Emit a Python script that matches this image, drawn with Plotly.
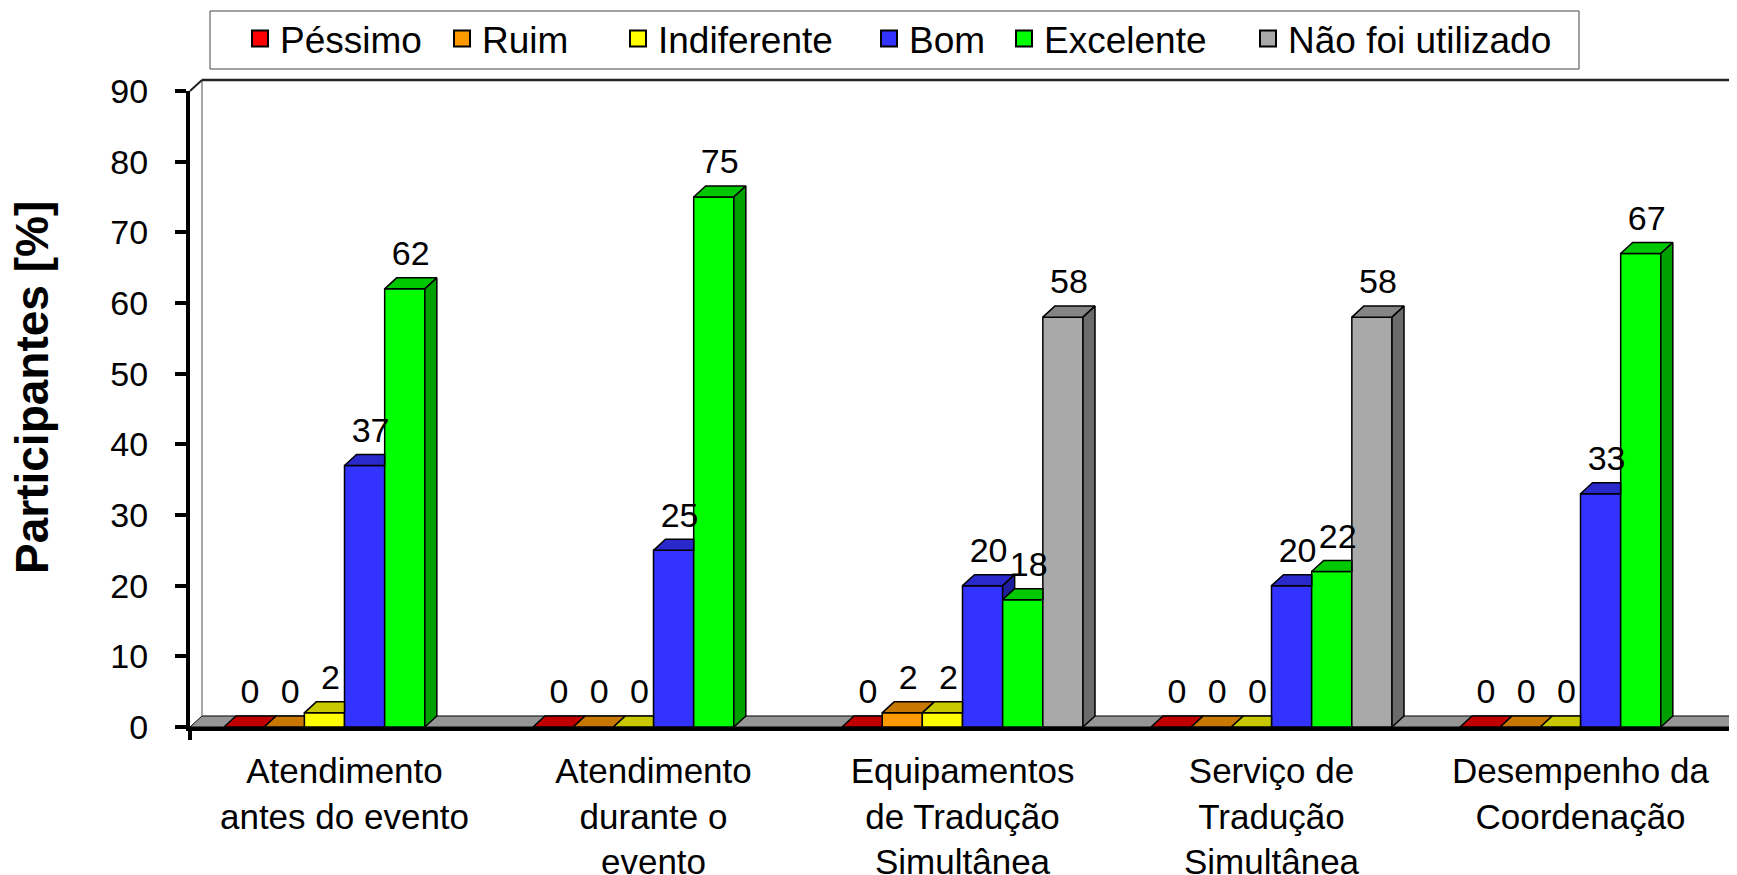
import plotly.graph_objects as go

# ---------------- data ----------------
categories = [
    "Atendimento<br>antes do evento",
    "Atendimento<br>durante o<br>evento",
    "Equipamentos<br>de Tradução<br>Simultânea",
    "Serviço de<br>Tradução<br>Simultânea",
    "Desempenho da<br>Coordenação",
]
series_names = ["Péssimo", "Ruim", "Indiferente", "Bom", "Excelente", "Não foi utilizado"]
pessimo = [0, 0, 0, 0, 0]
ruim = [0, 0, 2, 0, 0]
indiferente = [2, 0, 2, 0, 0]
bom = [37, 25, 20, 20, 33]
excelente = [62, 75, 18, 22, 67]
nao_utilizado = [None, None, 58, 58, None]
series_values = [pessimo, ruim, indiferente, bom, excelente, nao_utilizado]

# ---------------- styles ----------------
front_colors = ["#FF0000", "#FF9900", "#FFFF00", "#3333FF", "#00FF00", "#A9A9A9"]
top_colors = ["#C00000", "#C87800", "#C8C800", "#2929CC", "#00C800", "#858585"]
side_colors = ["#990000", "#995C00", "#999900", "#1F1F9E", "#00A000", "#6B6B6B"]
FONT = "Liberation Sans, Arial, sans-serif"

N = len(categories)
S = len(series_names)
GROUP = 0.78
W = GROUP / S
DX = 0.0388   # depth offset in x-units
DY = 1.56     # depth offset in y-units
Y_MAX = 90
XMIN, XMAX = -0.5, N - 0.5

OFF = 8  # default page margin of the html body
FIG_W, FIG_H = 1737 - OFF, 875 - OFF
ML, MR, MT, MB = 182, 2, 83, 148
PLOT_W = FIG_W - ML - MR
PLOT_H = FIG_H - MT - MB


def px(x):
    return (x - XMIN) / (XMAX - XMIN)


def py(y):
    return y / Y_MAX


def pgx(xp):  # page pixel -> paper x
    return (xp - OFF - ML) / PLOT_W


def pgy(yp):  # page pixel -> paper y
    return (MT + PLOT_H - (yp - OFF)) / PLOT_H


fig = go.Figure()
xs = list(range(N))

# front faces as bars
for s in range(S):
    fig.add_trace(go.Bar(
        x=xs, y=series_values[s], width=W, offset=-GROUP / 2 + s * W,
        marker=dict(color=front_colors[s], line=dict(color="black", width=1.5)),
        name=series_names[s], showlegend=False,
    ))

# top and side faces
for s in range(S):
    tx, ty, sx, sy = [], [], [], []
    for c in range(N):
        v = series_values[s][c]
        if v is None:
            continue
        left = c - GROUP / 2 + s * W
        right = left + W
        nxt = series_values[s + 1][c] if s + 1 < S else None
        nxt = 0 if nxt is None else nxt
        if nxt > v:
            poly = [(left, v), (right, v), (right, v + DY), (left + DX, v + DY)]
        else:
            poly = [(left, v), (right, v), (right + DX, v + DY), (left + DX, v + DY)]
        poly.append(poly[0])
        tx += [p[0] for p in poly] + [None]
        ty += [p[1] for p in poly] + [None]
        if v > nxt:
            side = [(right, nxt), (right + DX, nxt + DY), (right + DX, v + DY), (right, v)]
            side.append(side[0])
            sx += [p[0] for p in side] + [None]
            sy += [p[1] for p in side] + [None]
    fig.add_trace(go.Scatter(x=tx, y=ty, mode="lines", fill="toself",
                             fillcolor=top_colors[s], line=dict(color="black", width=1.5),
                             showlegend=False, hoverinfo="skip"))
    if sx:
        fig.add_trace(go.Scatter(x=sx, y=sy, mode="lines", fill="toself",
                                 fillcolor=side_colors[s], line=dict(color="black", width=1.5),
                                 showlegend=False, hoverinfo="skip"))

# value labels
lx, ly, lt = [], [], []
for s in range(S):
    for c in range(N):
        v = series_values[s][c]
        if v is None:
            continue
        lx.append(c - GROUP / 2 + s * W + W / 2 + DX * 0.5)
        ly.append(v + DY + 0.6)
        lt.append(str(v))
fig.add_trace(go.Scatter(x=lx, y=ly, text=lt, mode="text", textposition="top center",
                         textfont=dict(size=34, color="black", family=FONT),
                         showlegend=False, hoverinfo="skip", cliponaxis=False))

# legend entries (one legend per item, positioned like the reference)
legend_sq_px = [253, 455, 631, 882, 1017, 1261]
layout_legends = {}
for s in range(S):
    key = "legend" if s == 0 else f"legend{s + 1}"
    fig.add_trace(go.Scatter(
        x=[None], y=[None], mode="markers", name=series_names[s], legend=key,
        marker=dict(symbol="square", size=16, color=front_colors[s],
                    line=dict(color="black", width=2)),
    ))
    layout_legends[key] = dict(
        x=pgx(legend_sq_px[s] - 13), xanchor="left",
        y=pgy(39), yanchor="middle",
        orientation="h", bgcolor="rgba(0,0,0,0)", borderwidth=0,
        font=dict(size=37, color="black", family=FONT),
    )

shapes = []
# legend box
shapes.append(dict(type="rect", xref="paper", yref="paper",
                   x0=pgx(210), x1=pgx(1579), y0=pgy(69), y1=pgy(11),
                   line=dict(color="#444444", width=1), fillcolor="white", layer="below"))
# floor
fx0, fx1 = px(XMIN), px(XMAX + 0.1)
shapes.append(dict(type="path", xref="paper", yref="paper", layer="below",
                   path=f"M{fx0},{py(0)} L{fx1},{py(0)} L{px(XMAX + 0.1 + DX)},{py(DY)} "
                        f"L{px(XMIN + DX)},{py(DY)} Z",
                   fillcolor="#969696", line=dict(color="black", width=1)))
# back wall edges
shapes.append(dict(type="line", xref="paper", yref="paper", layer="below",
                   x0=px(XMIN + DX), x1=px(XMIN + DX), y0=py(DY), y1=py(Y_MAX + DY),
                   line=dict(color="#888888", width=1.5)))
shapes.append(dict(type="line", xref="paper", yref="paper", layer="below",
                   x0=px(XMIN + DX), x1=px(XMAX + 0.2), y0=py(Y_MAX + DY), y1=py(Y_MAX + DY),
                   line=dict(color="#222222", width=2.5)))
shapes.append(dict(type="line", xref="paper", yref="paper", layer="below",
                   x0=px(XMIN), x1=px(XMIN + DX), y0=py(Y_MAX), y1=py(Y_MAX + DY),
                   line=dict(color="#222222", width=2)))
# end tick marks on category axis
for xe in (0, 1):
    shapes.append(dict(type="line", xref="paper", yref="paper",
                       x0=xe, x1=xe, y0=0, y1=-13 / PLOT_H,
                       line=dict(color="black", width=4)))

fig.update_layout(
    width=FIG_W, height=FIG_H,
    margin=dict(l=ML, r=MR, t=MT, b=MB, pad=0, autoexpand=False),
    paper_bgcolor="white", plot_bgcolor="rgba(0,0,0,0)",
    barmode="overlay",
    font=dict(family=FONT, color="black", size=34),
    shapes=shapes,
    annotations=[dict(text="<b>Participantes [%]</b>", textangle=-90,
                      xref="paper", yref="paper",
                      x=pgx(32), y=pgy(388),
                      xanchor="center", yanchor="middle", showarrow=False,
                      font=dict(size=46, family=FONT, color="black"))],
    **layout_legends,
)
fig.update_xaxes(range=[XMIN, XMAX], tickvals=xs, ticktext=categories,
                 showline=True, linecolor="black", linewidth=4, ticks="",
                 ticklabelstandoff=10, automargin=False,
                 showgrid=False, zeroline=False,
                 tickfont=dict(size=35, family=FONT, color="black"))
fig.update_yaxes(range=[0, Y_MAX], dtick=10, showline=True, linecolor="black", linewidth=4,
                 ticks="outside", ticklen=11, tickwidth=3.5, tickcolor="black",
                 ticklabelstandoff=20, automargin=False, showgrid=False, zeroline=False,
                 tickfont=dict(size=34, family=FONT, color="black"))

fig.write_html("out.html")
